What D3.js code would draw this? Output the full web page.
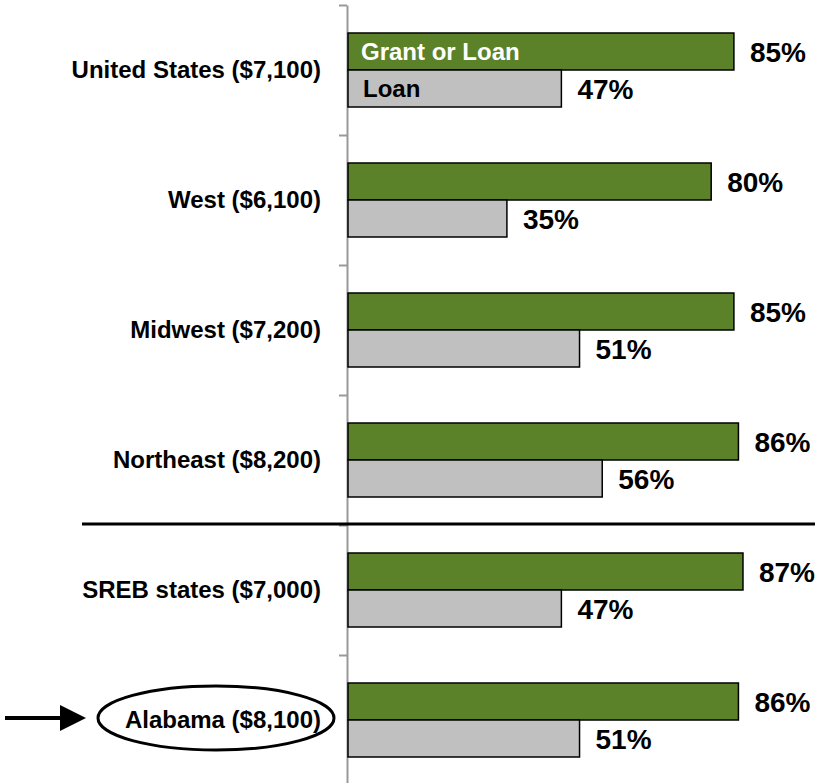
<!DOCTYPE html>
<meta charset="utf-8">
<style>
body { margin: 0; background: #fff; }
text { font-family: Arial, "Liberation Sans", sans-serif; font-weight: bold; }
.cat { font-size: 24px; fill: #000; }
.val { font-size: 28px; fill: #000; }
.bar { stroke: #000; stroke-width: 1.5px; }
.axis path, .axis line { stroke: #999; stroke-width: 2px; }
</style>
<svg width="820" height="783"></svg>
<script src="https://d3js.org/d3.v7.min.js"></script>
<script>

const categories = ["United States ($7,100)", "West ($6,100)", "Midwest ($7,200)",
  "Northeast ($8,200)", "SREB states ($7,000)", "Alabama ($8,100)"];
const series = ["Grant or Loan", "Loan"];
const grantOrLoan = [85, 80, 85, 86, 87, 86];
const loan = [47, 35, 51, 56, 47, 51];
const highlight = "Alabama ($8,100)";
const splitBefore = "SREB states ($7,000)";

const colors = { "Grant or Loan": "#5b8229", "Loan": "#c0c0c0" };
const legendText = { "Grant or Loan": "#fff", "Loan": "#000" };

var svg = d3.select("svg");

var x = d3.scaleLinear().domain([0, 100]).range([348, 802]);
var y = d3.scaleBand().domain(categories).range([5, 785]).padding(0);
var ySub = d3.scaleBand().domain(series).range([0, y.bandwidth()])
  .paddingInner(0).paddingOuter(28 / 37);

var rows = categories.map(function(c, i) {
  return { cat: c, vals: [
    { s: "Grant or Loan", v: grantOrLoan[i] },
    { s: "Loan", v: loan[i] } ] };
});

// axis with ticks at group boundaries
var yTicks = d3.scaleLinear().domain([0, categories.length]).range([5, 785]);
svg.append("g").attr("class", "axis")
  .attr("transform", "translate(347,0)")
  .call(d3.axisLeft(yTicks).ticks(categories.length).tickFormat("").tickSize(8).tickSizeOuter(0));

var g = svg.selectAll("g.row").data(rows).enter().append("g")
  .attr("class", "row")
  .attr("transform", function(d) { return "translate(0," + y(d.cat) + ")"; });

g.selectAll("rect").data(function(d) { return d.vals; }).enter().append("rect")
  .attr("class", "bar")
  .attr("x", x(0))
  .attr("y", function(d) { return ySub(d.s); })
  .attr("width", function(d) { return x(d.v) - x(0); })
  .attr("height", ySub.bandwidth())
  .style("fill", function(d) { return colors[d.s]; });

g.selectAll("text.val").data(function(d) { return d.vals; }).enter().append("text")
  .attr("class", "val")
  .attr("x", function(d) { return x(d.v) + 16; })
  .attr("y", function(d) { return ySub(d.s) + ySub.bandwidth() / 2 + 10; })
  .text(function(d) { return d.v + "%"; });

g.append("text")
  .attr("class", "cat")
  .attr("x", 321)
  .attr("y", y.bandwidth() / 2 + 8)
  .attr("text-anchor", "end")
  .text(function(d) { return d.cat; });

// series names inside first group's bars
svg.selectAll("text.leg").data(series).enter().append("text")
  .attr("class", "cat leg")
  .attr("x", function(d, i) { return i ? 363 : 361; })
  .attr("y", function(d) { return y(categories[0]) + ySub(d) + ySub.bandwidth() / 2 + 8; })
  .style("fill", function(d) { return legendText[d]; })
  .text(function(d) { return d; });

// separator between regions and SREB group
svg.append("line")
  .attr("x1", 82).attr("x2", 815)
  .attr("y1", y(splitBefore) - 1).attr("y2", y(splitBefore) - 1)
  .style("stroke", "#000").style("stroke-width", 3);

// highlight ellipse and arrow
var cy = y(highlight) + y.bandwidth() / 2 - 2;
svg.append("ellipse")
  .attr("cx", 216).attr("cy", cy).attr("rx", 118).attr("ry", 32)
  .style("fill", "none").style("stroke", "#000").style("stroke-width", 3);
svg.append("line")
  .attr("x1", 5).attr("x2", 62).attr("y1", cy).attr("y2", cy)
  .style("stroke", "#000").style("stroke-width", 4);
svg.append("path")
  .attr("d", d3.line()([[60, cy - 13], [86, cy], [60, cy + 13]]) + "Z")
  .style("fill", "#000");

</script>
